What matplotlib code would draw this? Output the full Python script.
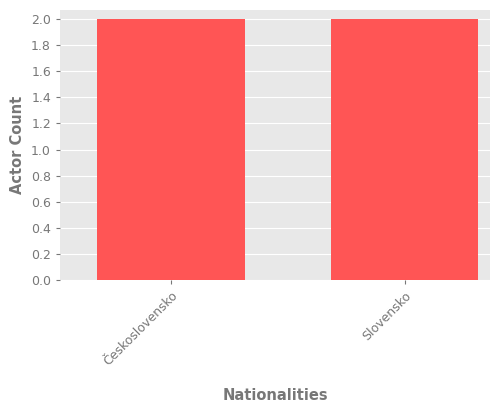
import matplotlib
matplotlib.use("Agg")
import matplotlib.pyplot as plt

categories = ["Československo", "Slovensko"]
counts = [2, 2]

fig = plt.figure(figsize=(5, 4), dpi=100)
ax = fig.add_axes([0.12, 0.30, 0.86, 0.675])
ax.set_facecolor("#E8E8E8")
ax.bar(categories, counts, color="#FF5555", width=0.63, zorder=2)
ax.set_xlim(-0.475, 1.365)
ax.set_ylim(0, 2.07)
ax.set_yticks([i * 0.2 for i in range(11)])
ax.yaxis.grid(True, color="white", linewidth=0.8, zorder=0)
ax.set_axisbelow(True)
for s in ax.spines.values():
    s.set_visible(False)
ax.tick_params(colors="#777777", labelsize=9, length=3)
plt.setp(ax.get_xticklabels(), rotation=45, ha="right", rotation_mode="anchor")
ax.set_xlabel("Nationalities", color="#777777", fontsize=10.5, fontweight="bold", labelpad=14)
ax.set_ylabel("Actor Count", color="#777777", fontsize=10.5, fontweight="bold")
fig.savefig("out.png", dpi=100)
